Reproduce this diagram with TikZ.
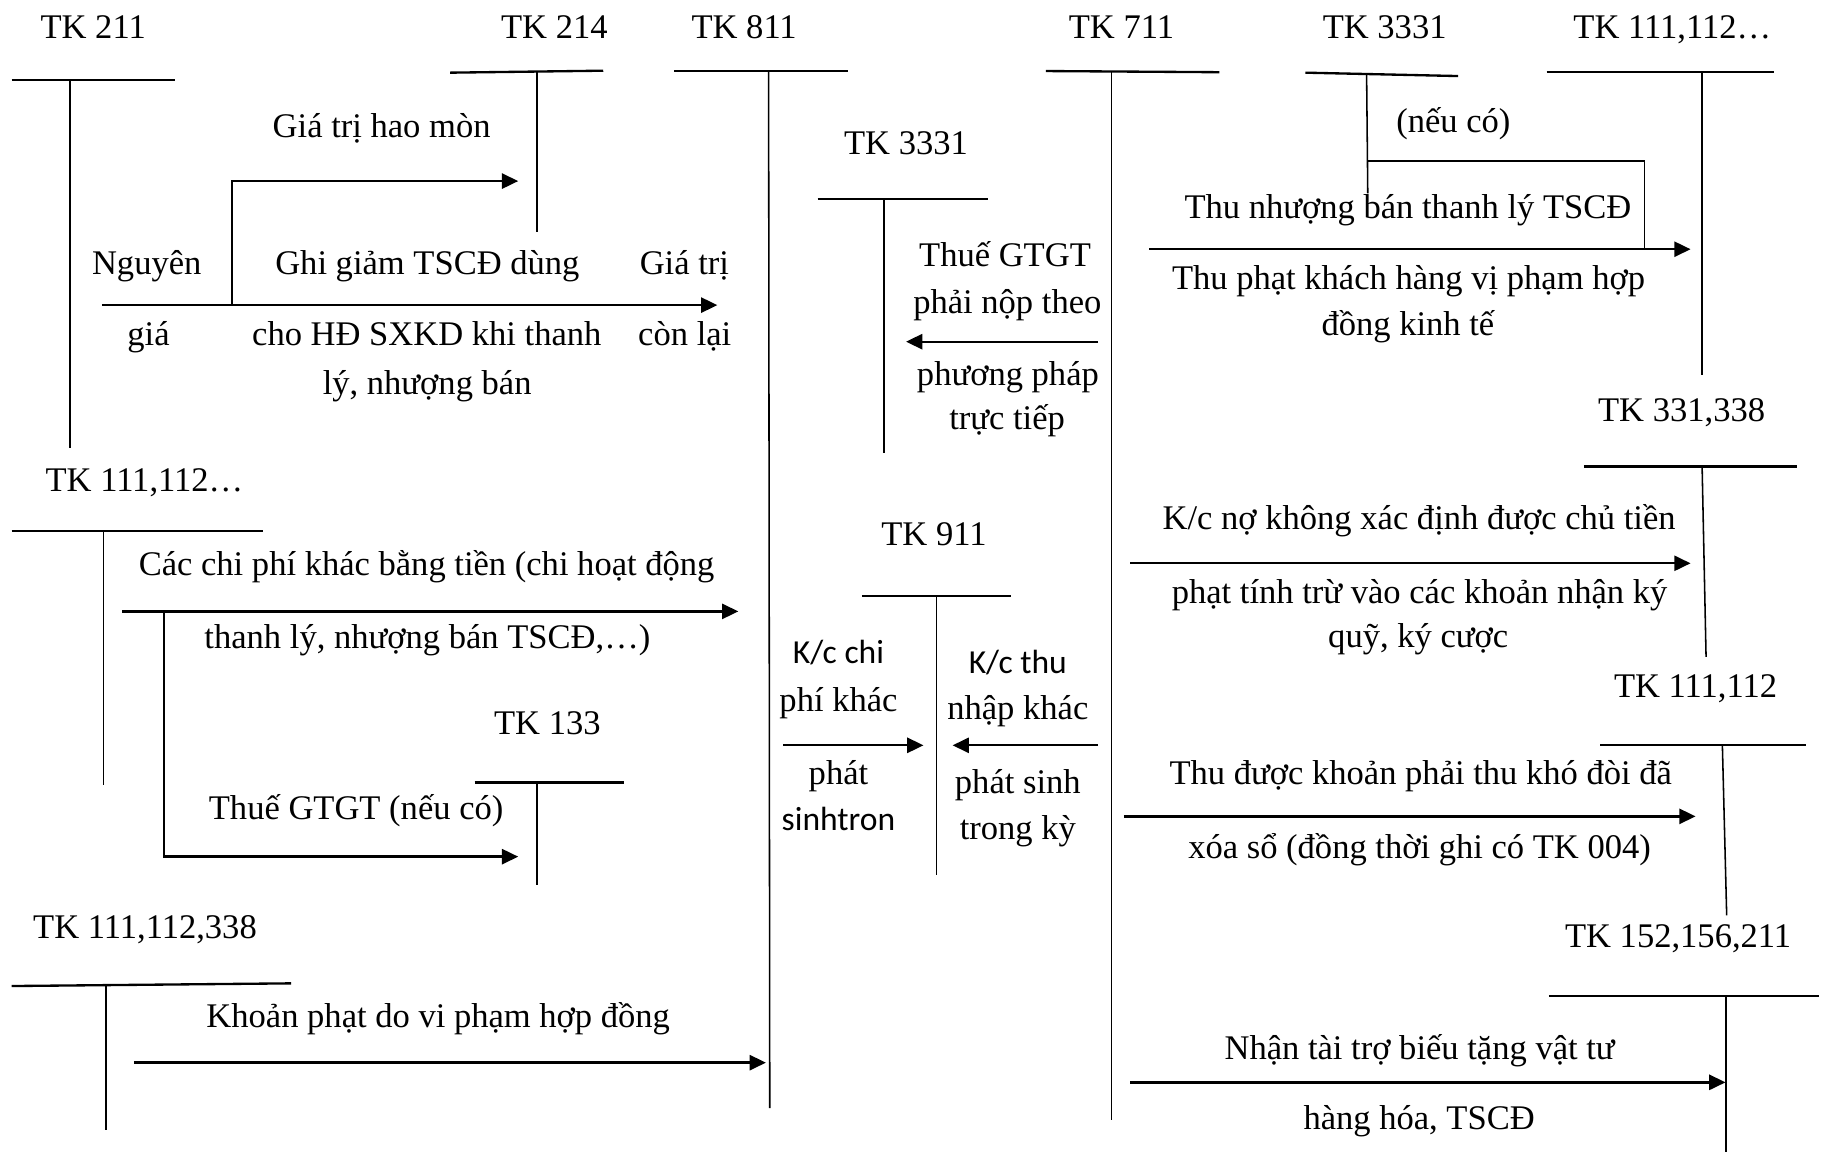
\documentclass[tikz,border=0pt]{standalone}
\usepackage{fontspec}
\setmainfont{Liberation Serif}
\newfontfamily\sansK{Carlito}
\usetikzlibrary{arrows.meta}
\begin{document}
\begin{tikzpicture}[x=0.6pt,y=-0.6pt,
  tline/.style={line width=1.2pt},
  vline/.style={line width=0.8pt},
  arr/.style={line width=1.2pt,-{Triangle[length=8.4pt,width=7.8pt]}},
  thinln/.style={line width=0.6pt},
  lbl/.style={anchor=base,inner sep=0pt,font=\fontsize{17.8}{20}\selectfont},
  slbl/.style={anchor=base,inner sep=0pt,font=\sansK\fontsize{17.3}{20}\selectfont}]
\useasboundingbox (0,0) rectangle (1568,989);

% ---------- T accounts ----------
% TK 211
\node[lbl] (l211) at (80,33) {TK 211};
\draw[tline] (10,68.5) -- (150,68.5);
\coordinate (s211t) at (60,68.5); \coordinate (s211b) at (60,385);
\draw[vline] (s211t) -- (s211b);
% TK 214
\node[lbl] (l214) at (476,33) {TK 214};
\draw[tline] (386.5,62.4) -- (518,60.7);
\coordinate (s214t) at (461,61.5); \coordinate (s214b) at (461,199);
\draw[vline] (s214t) -- (s214b);
% TK 811
\node[lbl] (l811) at (639,33) {TK 811};
\draw[tline] (579,60.7) -- (728,60.7);
\coordinate (s811t) at (660,60.7); \coordinate (s811b) at (661,951.5);
\draw[vline] (s811t) -- (s811b);
% TK 3331 middle
\node[lbl] (l3331m) at (778,133) {TK 3331};
\draw[tline] (702,171) -- (848,171);
\coordinate (s3331mt) at (759,171); \coordinate (s3331mb) at (759,389);
\draw[vline] (s3331mt) -- (s3331mb);
% TK 711
\node[lbl] (l711) at (963,33) {TK 711};
\draw[tline] (898,61) -- (1047,62);
\coordinate (s711t) at (954.5,61.5); \coordinate (s711b) at (954.5,962);
\draw[vline] (s711t) -- (s711b);
% TK 3331 top right
\node[lbl] (l3331t) at (1189,33) {TK 3331};
\draw[tline] (1121,62.4) -- (1252,65.3);
\coordinate (s3331tt) at (1173.5,63.6); \coordinate (s3331tb) at (1174.5,166);
\draw[vline] (s3331tt) -- (s3331tb);
% TK 111,112... top right
\node[lbl] (l111t) at (1436,33) {TK 111,112…};
\draw[tline] (1328,62) -- (1523,62);
\coordinate (s111tt) at (1461.7,62); \coordinate (s111tb) at (1461.7,322);
\draw[vline] (s111tt) -- (s111tb);
% TK 331,338
\node[lbl] (l331) at (1444,362) {TK 331,338};
\draw[tline] (1360,400.7) -- (1543,400.7);
\coordinate (s331t) at (1461.6,400.7); \coordinate (s331b) at (1465,564);
\draw[vline] (s331t) -- (s331b);
% TK 111,112 right
\node[lbl] (l111r) at (1456,599) {TK 111,112};
\draw[tline] (1374,640) -- (1551,640);
\coordinate (s111rt) at (1479,640); \coordinate (s111rb) at (1482.7,786);
\draw[vline] (s111rt) -- (s111rb);
% TK 152,156,211
\node[lbl] (l152) at (1441,814) {TK 152,156,211};
\draw[tline] (1330,855) -- (1561.7,855);
\coordinate (s152t) at (1482,855); \coordinate (s152b) at (1482,989);
\draw[vline] (s152t) -- (s152b);
% TK 911
\node[lbl] (l911) at (802,468) {TK 911};
\draw[tline] (740,512) -- (868,512);
\coordinate (s911t) at (804,512); \coordinate (s911b) at (804,751);
\draw[vline] (s911t) -- (s911b);
% TK 111,112... left
\node[lbl] (l111l) at (124,422) {TK 111,112…};
\draw[tline] (10,455.7) -- (226,455.7);
\coordinate (s111lt) at (89,455.7); \coordinate (s111lb) at (89,674);
\draw[vline] (s111lt) -- (s111lb);
% TK 133
\node[lbl] (l133) at (470,631) {TK 133};
\draw[tline] (407.6,671.8) -- (536,671.8);
\coordinate (s133t) at (461,671.8); \coordinate (s133b) at (461,760);
\draw[vline] (s133t) -- (s133b);
% TK 111,112,338
\node[lbl] (l338) at (124.5,806) {TK 111,112,338};
\draw[tline] (10,846.7) -- (250,844.4);
\coordinate (s338t) at (91,846); \coordinate (s338b) at (91,970);
\draw[vline] (s338t) -- (s338b);

% ---------- connectors ----------
% Thanh ly TSCD
\coordinate (a1s) at (87.5,262); \coordinate (a1e) at (616,262);
\draw[arr] (a1s) -- (a1e);
\coordinate (b1) at (199,262); \coordinate (b1t) at (199,155.5); \coordinate (b1e) at (445,155.5);
\draw[arr] (b1) -- (b1t) -- (b1e);
% Thue GTGT truc tiep
\coordinate (a2s) at (943,293.4); \coordinate (a2e) at (778,293.4);
\draw[arr] (a2s) -- (a2e);
% Thu nhuong ban
\coordinate (a3s) at (986.7,214); \coordinate (a3e) at (1451.7,214);
\draw[arr] (a3s) -- (a3e);
\coordinate (b3a) at (1174.5,138.3); \coordinate (b3b) at (1411.8,138.3); \coordinate (b3c) at (1411.8,213);
\draw[thinln] (b3a) -- (b3b) -- (b3c);
% K/c no
\coordinate (a4s) at (970.5,483.7); \coordinate (a4e) at (1451.7,483.7);
\draw[arr] (a4s) -- (a4e);
% Thu duoc
\coordinate (a5s) at (965,701); \coordinate (a5e) at (1456,701);
\draw[arr] (a5s) -- (a5e);
% Nhan tai tro
\coordinate (a6s) at (970.5,929.4); \coordinate (a6e) at (1481.7,929.4);
\draw[arr] (a6s) -- (a6e);
% K/c chi phi / thu nhap
\coordinate (a7s) at (672.7,640); \coordinate (a7e) at (793,640);
\draw[arr] (a7s) -- (a7e);
\coordinate (a8s) at (943,640); \coordinate (a8e) at (818,640);
\draw[arr] (a8s) -- (a8e);
% Chi phi khac bang tien
\coordinate (a9s) at (105,525); \coordinate (a9e) at (634,525);
\draw[arr] (a9s) -- (a9e);
\coordinate (b9) at (141,525); \coordinate (b9b) at (141,735.6); \coordinate (b9e) at (445,735.6);
\draw[arr] (b9) -- (b9b) -- (b9e);
% Khoan phat
\coordinate (a10s) at (115,912.5); \coordinate (a10e) at (657.7,912.5);
\draw[arr] (a10s) -- (a10e);

% ---------- texts ----------
\node[lbl] (t1) at (327.7,118) {Giá trị hao mòn};
\node[lbl] (t2) at (126,236) {Nguyên};
\node[lbl] (t3) at (127.5,297) {giá};
\node[lbl] (t4) at (367,236) {Ghi giảm TSCĐ dùng};
\node[lbl] (t5) at (366.5,297) {cho HĐ SXKD khi thanh};
\node[lbl] (t6) at (366.8,339) {lý, nhượng bán};
\node[lbl] (t7) at (587.7,236) {Giá trị};
\node[lbl] (t8) at (588,297) {còn lại};

\node[lbl] (t9) at (863,229) {Thuế GTGT};
\node[lbl] (t10) at (865,269) {phải nộp theo};
\node[lbl] (t11) at (865.5,331) {phương pháp};
\node[lbl] (t12) at (864.8,369) {trực tiếp};

\node[lbl] (t13) at (1248,114) {(nếu có)};
\node[lbl] (t14) at (1209,187.5) {Thu nhượng bán thanh lý TSCĐ};
\node[lbl] (t15) at (1209.5,249) {Thu phạt khách hàng vị phạm hợp};
\node[lbl] (t16) at (1209,288) {đồng kinh tế};

\node[lbl] (t17) at (1218.6,455) {K/c nợ không xác định được chủ tiền};
\node[lbl] (t18) at (1219,518) {phạt tính trừ vào các khoản nhận ký};
\node[lbl] (t19) at (1217.8,556) {quỹ, ký cược};

\node[lbl] (t20) at (1220,674) {Thu được khoản phải thu khó đòi đã};
\node[lbl] (t21) at (1219,737) {xóa sổ (đồng thời ghi có TK 004)};

\node[lbl] (t22) at (1219,910) {Nhận tài trợ biếu tặng vật tư};
\node[lbl] (t23) at (1218.6,970) {hàng hóa, TSCĐ};

\node[lbl] (t24) at (366.3,494) {Các chi phí khác bằng tiền (chi hoạt động};
\node[lbl] (t25) at (367,557) {thanh lý, nhượng bán TSCĐ,…)};
\node[lbl] (t26) at (305.8,704) {Thuế GTGT (nếu có)};
\node[lbl] (t27) at (376.3,882) {Khoản phạt do vi phạm hợp đồng};

\node[slbl] (t28) at (720,570) {K/c chi};
\node[lbl] (t29) at (720,611) {phí khác};
\node[lbl] (t30) at (720,674) {phát};
\node[slbl] (t31) at (720,713) {sinhtron};

\node[slbl] (t32) at (874,578) {K/c thu};
\node[lbl] (t33) at (874,618) {nhập khác};
\node[lbl] (t34) at (874,681) {phát sinh};
\node[lbl] (t35) at (874,721) {trong kỳ};
\end{tikzpicture}
\end{document}
